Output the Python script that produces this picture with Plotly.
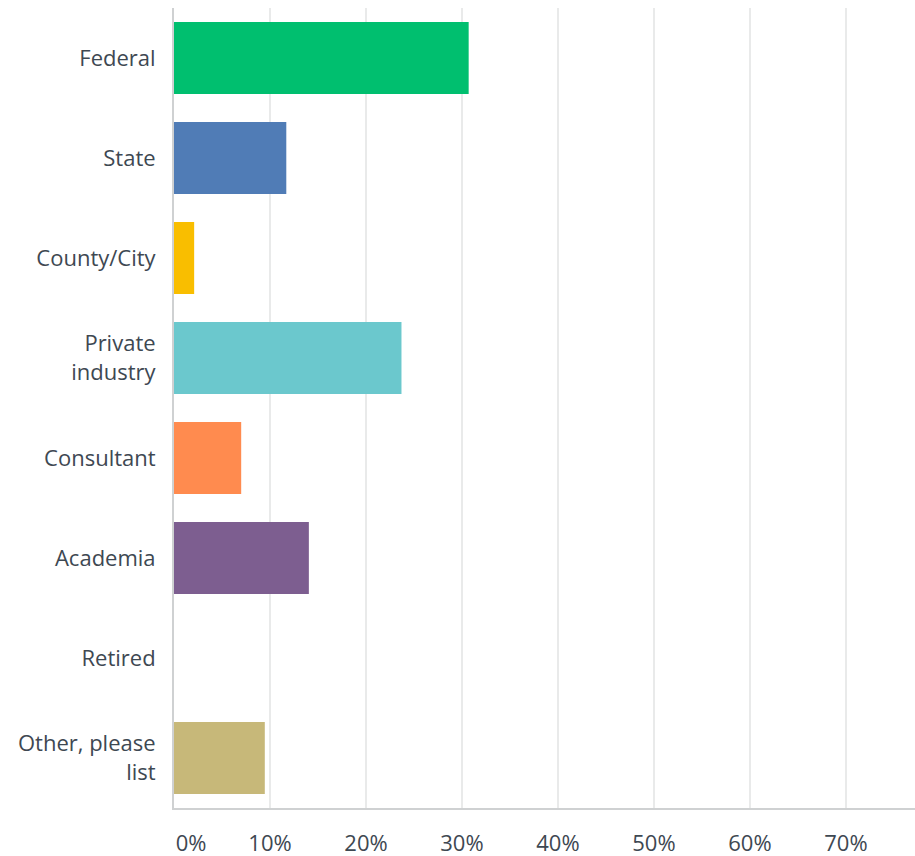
import plotly.graph_objects as go

categories = ["Federal", "State", "County/City", "Private<br>industry",
              "Consultant", "Academia", "Retired", "Other, please<br>list"]
percents = [30.7, 11.7, 2.1, 23.7, 7.0, 14.05, 0.0, 9.46]
bar_colors = ["#00BF6F", "#507CB6", "#F9BE00", "#6BC8CD",
              "#FF8B4F", "#7D5E90", "#D25F90", "#C7B879"]
tick_vals = [0, 10, 20, 30, 40, 50, 60, 70]
tick_text = ["\u00a0\u00a0\u00a0\u00a0\u00a0\u00a00%", "10%", "20%", "30%",
             "40%", "50%", "60%", "70%"]

fig = go.Figure(go.Bar(
    x=percents,
    y=categories,
    orientation="h",
    marker=dict(color=bar_colors, line=dict(width=0)),
    hoverinfo="x+y",
))

fig.update_layout(
    width=915, height=856,
    margin=dict(l=174, r=0, t=8, b=48),
    paper_bgcolor="white", plot_bgcolor="white",
    bargap=0.28,
    showlegend=False,
    font=dict(family="Open Sans", size=22, color="#3E4852"),
)
fig.update_xaxes(
    range=[0, 77.2],
    tickvals=tick_vals, ticktext=tick_text,
    showgrid=True, gridcolor="#E9EAEA", gridwidth=1.5,
    showline=True, linecolor="#CFD1D2", linewidth=2,
    zeroline=False, ticks="", ticklabelstandoff=15,
    automargin=False, fixedrange=True,
)
fig.update_yaxes(
    categoryorder="array", categoryarray=categories,
    autorange="reversed",
    showgrid=False, zeroline=False,
    showline=True, linecolor="#CFD1D2", linewidth=2,
    ticks="", ticklabelstandoff=12,
    automargin=False, fixedrange=True,
)

# drop the page's default body margin so the figure sits at the top-left corner
fig.write_html("out.html", config={"displayModeBar": False},
               post_script="document.body.style.margin='0';")
